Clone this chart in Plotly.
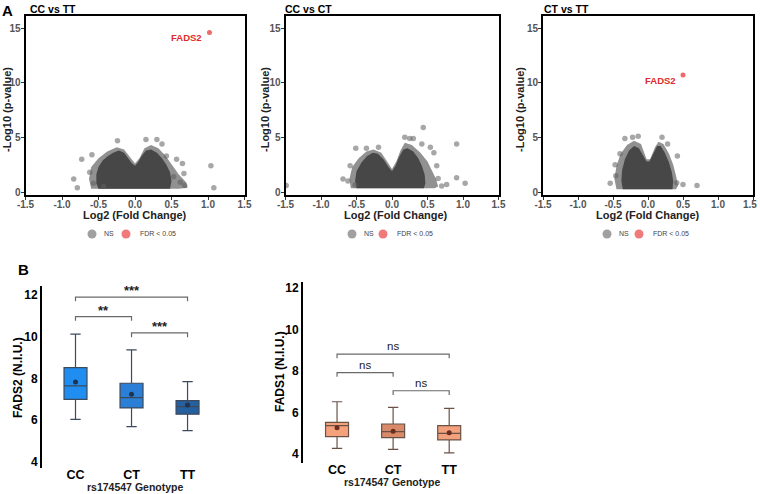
import plotly.graph_objects as go

W, H = 760, 494
def PX(x):
    return x / W
def PY(y):
    return 1 - y / H

FONT = "Liberation Sans, Arial, sans-serif"

# ---------------- Panel A data (volcano plots) ----------------
panel_titles = ["CC vs TT", "CC vs CT", "CT vs TT"]
x_ticks = [-1.5, -1.0, -0.5, 0.0, 0.5, 1.0, 1.5]
y_ticks = [0, 5, 10, 15]
legend_labels = ["NS", "FDR < 0.05"]

# outlines of the dense point clouds (log2FC, -log10 p)
cc_tt_core_x = [-0.5, -0.53, -0.53, -0.5, -0.44, -0.37, -0.3, -0.22, -0.15, -0.09, -0.04, 0.0, 0.04, 0.09, 0.15, 0.22, 0.3, 0.37, 0.43, 0.48, 0.5, 0.48]
cc_tt_core_y = [0.3, 0.8, 1.6, 2.3, 2.9, 3.3, 3.6, 3.8, 3.6, 3.1, 2.6, 2.4, 2.7, 3.3, 3.8, 3.9, 3.6, 3.1, 2.5, 1.8, 1.0, 0.3]
cc_tt_halo_x = [-0.6, -0.63, -0.6, -0.5, -0.38, -0.25, -0.15, -0.05, 0.0, 0.06, 0.13, 0.22, 0.32, 0.42, 0.52, 0.6, 0.7, 0.72, 0.6]
cc_tt_halo_y = [0.3, 1.2, 2.3, 3.1, 3.7, 4.1, 3.9, 3.0, 2.6, 3.1, 4.0, 4.3, 4.0, 3.3, 2.4, 1.6, 0.9, 0.4, 0.3]
cc_tt_out_x = [-0.24, 0.15, 0.30, 0.37, -0.59, -0.73, -0.84, -0.79, -0.62, 0.57, 0.65, 0.67, 1.04, 1.08, 0.43, 0.53, 0.62, 0.68, -0.57, -0.43]
cc_tt_out_y = [4.7, 4.8, 4.8, 4.4, 3.4, 3.0, 1.2, 0.4, 1.8, 3.0, 2.6, 1.7, 2.4, 0.4, 3.3, 1.4, 0.9, 0.6, 0.8, 0.5]

cc_ct_core_x = [-0.5, -0.52, -0.5, -0.43, -0.35, -0.27, -0.2, -0.12, -0.05, 0.0, 0.05, 0.1, 0.16, 0.22, 0.3, 0.37, 0.42, 0.46, 0.47, 0.45]
cc_ct_core_y = [0.35, 1.0, 1.9, 2.7, 3.3, 3.6, 3.5, 3.0, 2.3, 1.9, 2.4, 3.2, 3.9, 4.0, 3.7, 3.1, 2.4, 1.6, 0.8, 0.35]
cc_ct_halo_x = [-0.58, -0.6, -0.56, -0.47, -0.36, -0.26, -0.15, -0.05, 0.0, 0.06, 0.12, 0.18, 0.28, 0.4, 0.5, 0.56, 0.62, 0.65, 0.6]
cc_ct_halo_y = [0.35, 1.2, 2.3, 3.1, 3.7, 3.9, 3.6, 2.6, 2.1, 2.8, 3.8, 4.5, 4.3, 3.6, 2.8, 2.0, 1.2, 0.5, 0.35]
cc_ct_out_x = [0.44, 0.18, 0.25, 0.30, 0.91, -0.51, -0.36, -0.19, 0.42, 0.54, 0.59, 0.63, -0.59, -0.69, -0.62, 0.91, 1.03, 0.77, 0.70, -1.49, 0.65, -0.52]
cc_ct_out_y = [5.9, 5.0, 4.9, 4.9, 4.4, 4.0, 4.0, 4.1, 4.4, 4.1, 3.6, 2.4, 2.4, 1.2, 1.0, 1.3, 0.8, 0.7, 0.55, 0.6, 1.25, 0.65]

ct_tt_core_x = [-0.36, -0.38, -0.37, -0.33, -0.27, -0.2, -0.13, -0.07, -0.02, 0.02, 0.07, 0.13, 0.18, 0.24, 0.3, 0.34, 0.36, 0.35]
ct_tt_core_y = [0.25, 1.0, 2.0, 3.0, 3.8, 4.2, 4.0, 3.4, 2.8, 2.8, 3.5, 4.2, 4.2, 3.6, 2.7, 1.8, 1.0, 0.25]
ct_tt_halo_x = [-0.45, -0.48, -0.45, -0.39, -0.3, -0.2, -0.1, -0.02, 0.03, 0.1, 0.15, 0.22, 0.3, 0.36, 0.4, 0.43, 0.4]
ct_tt_halo_y = [0.25, 1.2, 2.4, 3.5, 4.3, 4.7, 4.4, 3.0, 3.0, 4.1, 4.6, 4.4, 3.5, 2.5, 1.5, 0.6, 0.25]
ct_tt_out_x = [-0.33, -0.22, -0.14, 0.20, 0.42, -0.40, -0.47, -0.46, -0.54, 0.50, 0.70, 0.28, 0.41]
ct_tt_out_y = [4.9, 5.0, 5.1, 5.0, 3.3, 3.5, 2.5, 1.5, 0.8, 0.7, 0.6, 4.4, 0.85]

# significant gene (FADS2) per comparison; None = no hit
hit_gene = ["FADS2", None, "FADS2"]
hit_fc = [1.02, None, 0.5]
hit_logp = [14.6, None, 10.7]

# ---------------- Panel B data (box plots) ----------------
genotypes = ["CC", "CT", "TT"]
fads2_q1 = [7.0, 6.59, 6.29]
fads2_med = [7.64, 7.08, 6.65]
fads2_q3 = [8.52, 7.77, 6.94]
fads2_lo = [6.04, 5.69, 5.5]
fads2_hi = [10.12, 9.37, 7.85]
fads2_mean = [7.83, 7.24, 6.73]
fads1_q1 = [4.84, 4.79, 4.68]
fads1_med = [5.37, 5.08, 5.0]
fads1_q3 = [5.53, 5.45, 5.37]
fads1_lo = [4.27, 4.23, 4.06]
fads1_hi = [6.52, 6.25, 6.2]
fads1_mean = [5.27, 5.1, 5.03]
b_ticks = [4, 6, 8, 10, 12]

pairs = [(0, 2), (0, 1), (1, 2)]
fads2_bracket_y = [11.9, 10.96, 10.18]
fads2_sig = ["***", "**", "***"]
fads1_bracket_y = [8.82, 7.92, 7.05]
fads1_sig = ["ns", "ns", "ns"]

# ---------------- Build figure ----------------
fig = go.Figure()

def note(x, y, text, size, color="black", bold=True, angle=0, xa="center", ya="middle", **kw):
    fig.add_annotation(x=x, y=y, text=text, showarrow=False, textangle=angle,
                       xanchor=xa, yanchor=ya,
                       font=dict(family=FONT, size=size, color=color,
                                 weight=("bold" if bold else "normal")), **kw)

clouds = [
    (cc_tt_halo_x, cc_tt_halo_y, cc_tt_core_x, cc_tt_core_y, cc_tt_out_x, cc_tt_out_y),
    (cc_ct_halo_x, cc_ct_halo_y, cc_ct_core_x, cc_ct_core_y, cc_ct_out_x, cc_ct_out_y),
    (ct_tt_halo_x, ct_tt_halo_y, ct_tt_core_x, ct_tt_core_y, ct_tt_out_x, ct_tt_out_y),
]
# pixel geometry of the three volcano frames
v_left = [25.5, 285.5, 543]
v_right = [244.5, 498.5, 753]
v_top, v_bot = 16, 195
y_lo, y_hi = -0.27, 16.1

for i, (hx, hy, cx, cy, ox, oy) in enumerate(clouds):
    xa = "x" if i == 0 else f"x{i+1}"
    ya = "y" if i == 0 else f"y{i+1}"
    fig.add_trace(go.Scatter(x=hx, y=hy, fill="toself", mode="lines",
                             fillcolor="rgba(72,72,72,0.6)", line=dict(width=0, color="rgba(0,0,0,0)"),
                             xaxis=xa, yaxis=ya, showlegend=False, hoverinfo="skip"))
    fig.add_trace(go.Scatter(x=cx, y=cy, fill="toself", mode="lines",
                             fillcolor="#474747", line=dict(width=0, color="rgba(0,0,0,0)"),
                             xaxis=xa, yaxis=ya, showlegend=False, hoverinfo="skip"))
    fig.add_trace(go.Scatter(x=ox, y=oy, mode="markers",
                             marker=dict(size=5.5, color="rgba(95,95,95,0.55)", line=dict(width=0)),
                             xaxis=xa, yaxis=ya, showlegend=False, hoverinfo="skip"))
    if hit_gene[i]:
        fig.add_trace(go.Scatter(x=[hit_fc[i]], y=[hit_logp[i]], mode="markers",
                                 marker=dict(size=5, color="#ee6a6a"),
                                 xaxis=xa, yaxis=ya, showlegend=False, hoverinfo="skip"))
        note(hit_fc[i], hit_logp[i], hit_gene[i], 9.5, color="#de2b2b", xa="right",
             xref=xa, yref=ya, xshift=-5, yshift=-5)

    ax_common = dict(showline=True, mirror=True, linecolor="black", linewidth=1.7, automargin=False,
                     showgrid=False, zeroline=False, ticks="outside", ticklen=3, tickcolor="#333",
                     tickfont=dict(family=FONT, size=10, color="#555", weight="bold"))
    xkey = "xaxis" if i == 0 else f"xaxis{i+1}"
    ykey = "yaxis" if i == 0 else f"yaxis{i+1}"
    fig.layout[xkey] = dict(domain=[PX(v_left[i]), PX(v_right[i])], range=[-1.5, 1.5],
                            tickvals=x_ticks, ticktext=[f"{v:.1f}" for v in x_ticks],
                            anchor=ya, ticklabelstandoff=-4, **ax_common)
    fig.layout[ykey] = dict(domain=[PY(v_bot), PY(v_top)], range=[y_lo, y_hi],
                            tickvals=y_ticks, anchor=xa, ticklabelstandoff=-2, **ax_common)

# the last tick label of the right-hand volcano sits at the page edge
note(x_ticks[-1], PY(204), f"{x_ticks[-1]:.1f}", 10, color="#555", xa="right",
     xref="x3", yref="paper", xshift=6)

# volcano titles, axis titles, legends
title_x = [28, 283, 542]
ytitle_x = [7, 265, 520]
xtitle_x = [135, 396, 648]
leg_gray_x = [92, 352, 607]
leg_pink_x = [126, 383, 639]
for i in range(3):
    note(PX(title_x[i]), PY(1), panel_titles[i], 10.5, xa="left", ya="top", xref="paper", yref="paper")
    note(PX(ytitle_x[i]), PY(110), "-Log10 (p-value)", 11, color="#222", angle=-90,
         xref="paper", yref="paper")
    note(PX(xtitle_x[i]), PY(215), "Log2 (Fold Change)", 11, color="#222", xref="paper", yref="paper")
    for cxp, col, lab, gap in [(leg_gray_x[i], "#a0a0a0", legend_labels[0], 10),
                               (leg_pink_x[i], "#f07a7a", legend_labels[1], 12)]:
        fig.add_shape(type="circle", xref="paper", yref="paper",
                      x0=PX(cxp - 4.5), x1=PX(cxp + 4.5), y0=PY(238.5), y1=PY(229.5),
                      fillcolor=col, line=dict(width=0))
        note(PX(cxp + gap), PY(234), lab, 7, color="#444", bold=False, xa="left",
             xref="paper", yref="paper")

note(PX(0), PY(0), "A", 15, xa="left", ya="top", xref="paper", yref="paper")
note(PX(16), PY(259), "B", 15, xa="left", ya="top", xref="paper", yref="paper")

# ---------------- Box plots ----------------
box_sets = [
    ("x4", "y4", fads2_q1, fads2_med, fads2_q3, fads2_lo, fads2_hi, fads2_mean,
     ["#1f8ef0", "#2b7fd6", "#24609f"], "#3c4a5c", "#1d3350", fads2_bracket_y, fads2_sig),
    ("x5", "y5", fads1_q1, fads1_med, fads1_q3, fads1_lo, fads1_hi, fads1_mean,
     ["#f5a27c", "#d98a68", "#f3a07c"], "#6b5247", "#6b2e1e", fads1_bracket_y, fads1_sig),
]
for xa, ya, q1, med, q3, lo, hi, mn, fills, lcol, mcol, by, sig in box_sets:
    for k in range(3):
        fig.add_trace(go.Box(x=[k], q1=[q1[k]], median=[med[k]], q3=[q3[k]],
                             lowerfence=[lo[k]], upperfence=[hi[k]],
                             width=0.41, whiskerwidth=0.45, fillcolor=fills[k],
                             line=dict(color=lcol, width=1.2), boxpoints=False,
                             xaxis=xa, yaxis=ya, showlegend=False, hoverinfo="skip"))
    fig.add_trace(go.Scatter(x=[0, 1, 2], y=mn, mode="markers",
                             marker=dict(size=5, color=mcol),
                             xaxis=xa, yaxis=ya, showlegend=False, hoverinfo="skip"))
    for (a, b), yb, s in zip(pairs, by, sig):
        fig.add_trace(go.Scatter(x=[a, a, b, b], y=[yb - 0.2, yb, yb, yb - 0.2], mode="lines",
                                 line=dict(color="#6a6a6a", width=1.2),
                                 xaxis=xa, yaxis=ya, showlegend=False, hoverinfo="skip"))
        star = s.startswith("*")
        note((a + b) / 2, yb, s, (13 if star else 11.5), color="#222", bold=star,
             ya="bottom", xref=xa, yref=ya, yshift=(-3 if star else 0))

b_axes = [
    ("xaxis4", "yaxis4", "x4", "y4", 42, 215, 468, 286, [-0.598, 2.49], [3.71, 12.43]),
    ("xaxis5", "yaxis5", "x5", "y5", 303, 475, 463, 282, [-0.607, 2.46], [3.57, 12.29]),
]
for xk, yk, xa, ya, l, r, b, t, xr, yr in b_axes:
    fig.layout[xk] = dict(domain=[PX(l), PX(r)], range=xr, tickvals=[0, 1, 2], ticktext=genotypes,
                          showline=False, showgrid=False, zeroline=False, ticks="", anchor=ya,
                          automargin=False, ticklabelstandoff=-3,
                          tickfont=dict(family=FONT, size=12.5, color="black", weight="bold"))
    fig.layout[yk] = dict(domain=[PY(b), PY(t)], range=yr, tickvals=b_ticks,
                          showline=True, linecolor="black", linewidth=2, showgrid=False,
                          zeroline=False, ticks="", anchor=xa, automargin=False,
                          tickfont=dict(family=FONT, size=12, color="black", weight="bold"))

note(PX(18), PY(378), "FADS2 (N.I.U.)", 12, angle=-90, xref="paper", yref="paper")
note(PX(280), PY(372), "FADS1 (N.I.U.)", 12, angle=-90, xref="paper", yref="paper")
note(PX(135), PY(487), "rs174547 Genotype", 10.5, color="#222", xref="paper", yref="paper")
note(PX(392), PY(482), "rs174547 Genotype", 10.5, color="#222", xref="paper", yref="paper")

fig.update_layout(width=W, height=H, margin=dict(l=0, r=0, t=0, b=0, autoexpand=False),
                  paper_bgcolor="white", plot_bgcolor="white", showlegend=False,
                  font=dict(family=FONT))

fig.write_html("out.html", config={"displayModeBar": False},
               post_script="document.body.style.margin='0px';document.body.style.overflow='hidden';")
